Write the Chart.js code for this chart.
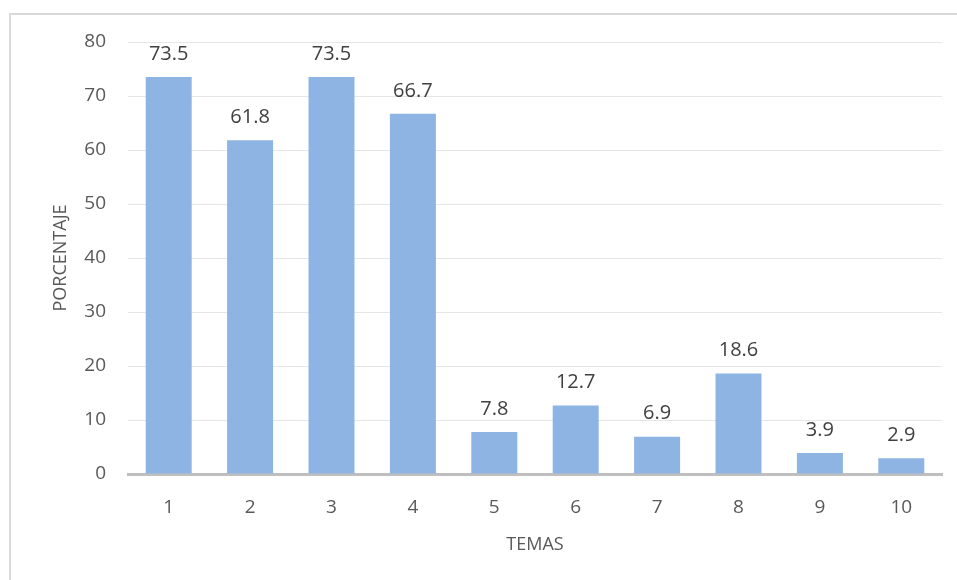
<!DOCTYPE html>
<html>
<head>
<meta charset="utf-8">
<script src="https://cdn.jsdelivr.net/npm/chart.js@4/dist/chart.umd.min.js"></script>
<style>
  html, body { margin: 0; padding: 0; background: #fff; overflow: hidden; }
  #frame {
    position: absolute; left: 9px; top: 13px; width: 1000px; height: 600px;
    border-left: 2px solid #d9d9d9; border-top: 2px solid #d9d9d9;
  }
  #wrap { position: absolute; left: 0; top: 0; width: 957px; height: 580px; }
</style>
</head>
<body>
<div id="frame"></div>
<div id="wrap"><canvas id="chart" width="957" height="580"></canvas></div>
<script>
'use strict';

var temas = ['1', '2', '3', '4', '5', '6', '7', '8', '9', '10'];
var porcentajes = [73.5, 61.8, 73.5, 66.7, 7.8, 12.7, 6.9, 18.6, 3.9, 2.9];

var fontName = "'Open Sans', 'Liberation Sans', sans-serif";

// draw the value above each bar
var valueLabels = {
  id: 'valueLabels',
  afterDatasetsDraw: function(chart) {
    var ctx = chart.ctx;
    var meta = chart.getDatasetMeta(0);
    ctx.save();
    ctx.font = '20px ' + fontName;
    ctx.fillStyle = '#404040';
    ctx.textAlign = 'center';
    ctx.textBaseline = 'middle';
    for (var i = 0; i < meta.data.length; i++) {
      var bar = meta.data[i];
      ctx.fillText(porcentajes[i].toFixed(1), bar.x, bar.y - 23);
    }
    ctx.restore();
  }
};

var ctx = document.getElementById('chart').getContext('2d');
new Chart(ctx, {
  type: 'bar',
  data: {
    labels: temas,
    datasets: [{
      data: porcentajes,
      backgroundColor: '#8db4e2',
      borderWidth: 0,
      categoryPercentage: 1,
      barPercentage: 0.565
    }]
  },
  options: {
    responsive: false,
    animation: false,
    layout: { padding: { left: 50, right: 15, top: 42, bottom: 24 } },
    plugins: {
      legend: { display: false },
      tooltip: { enabled: false }
    },
    scales: {
      x: {
        afterFit: function(scale) { scale.height = 82; },
        grid: { display: false, drawTicks: false },
        border: { display: true, color: '#bfbfbf', width: 3 },
        ticks: { color: '#595959', padding: 22, font: { family: fontName, size: 19 } },
        title: {
          display: true, text: 'TEMAS', color: '#595959', padding: 0,
          font: { family: fontName, size: 18 }
        }
      },
      y: {
        min: 0, max: 80,
        afterFit: function(scale) { scale.width = 78; },
        grid: { color: '#e6e6e6', lineWidth: 1, drawTicks: false },
        border: { display: false },
        ticks: { stepSize: 10, color: '#595959', padding: 22, font: { family: fontName, size: 19 } },
        title: {
          display: true, text: 'PORCENTAJE', color: '#595959', padding: 0,
          font: { family: fontName, size: 18 }
        }
      }
    }
  },
  plugins: [valueLabels]
});
</script>
</body>
</html>
